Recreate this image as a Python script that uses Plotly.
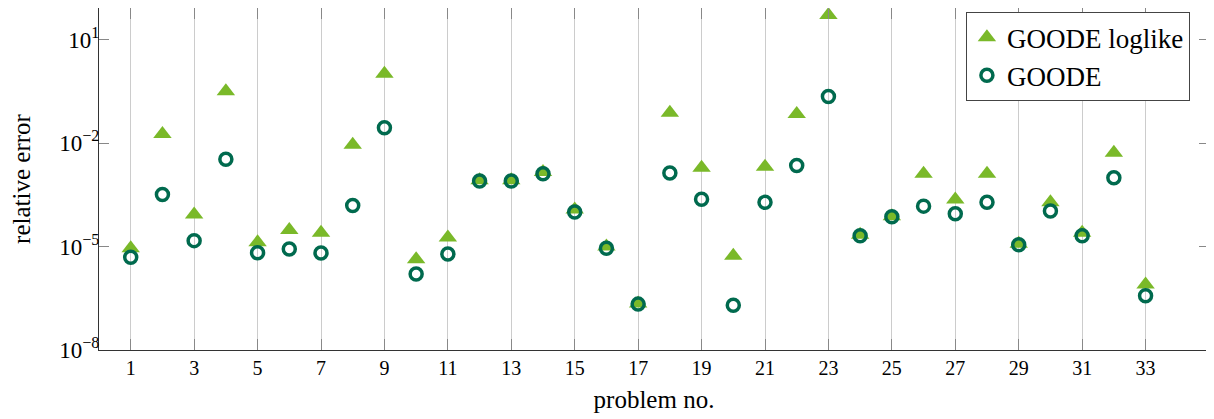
import plotly.graph_objects as go

problems = list(range(1, 34))
log_loglike = [-5.05, -1.74, -4.07, -0.50, -4.88, -4.52, -4.60, -2.05, 0.01, -5.37,
               -4.74, -3.08, -3.08, -2.84, -3.93, -5.00, -6.65, -1.12, -2.72, -5.27,
               -2.69, -1.16, 1.71, -4.66, -4.12, -2.89, -3.64, -2.89, -4.92, -3.72,
               -4.60, -2.28, -6.10]
log_goode = [-5.31, -3.49, -4.83, -2.47, -5.18, -5.07, -5.19, -3.81, -1.56, -5.80,
             -5.22, -3.10, -3.10, -2.89, -4.00, -5.05, -6.67, -2.87, -3.63, -6.70,
             -3.72, -2.65, -0.65, -4.69, -4.14, -3.83, -4.05, -3.72, -4.95, -3.97,
             -4.69, -3.01, -6.43]
err_loglike = [10 ** v for v in log_loglike]
err_goode = [10 ** v for v in log_goode]

x_tickvals = list(range(1, 34, 2))
y_tickvals = [1e-8, 1e-5, 1e-2, 1e1]
y_ticktext = ["10<sup>−8</sup>", "10<sup>−5</sup>", "10<sup>−2</sup>", "10<sup>1</sup>"]

light = "#7ab929"
dark = "#006a4e"
font = "Liberation Serif"

fig = go.Figure()
fig.add_trace(go.Scatter(
    x=problems, y=err_loglike, mode="markers", name="GOODE loglike",
    marker=dict(symbol="triangle-up", size=16, color=light, line=dict(width=0)),
))
fig.add_trace(go.Scatter(
    x=problems, y=err_goode, mode="markers", name="GOODE",
    marker=dict(symbol="circle-open", size=12, color=dark, line=dict(width=3.5, color=dark)),
))

fig.update_layout(
    width=1206, height=411,
    margin=dict(l=91, r=5, t=0, b=69),
    plot_bgcolor="white", paper_bgcolor="white",
    font=dict(family=font, size=19, color="black"),
    showlegend=True,
    legend=dict(
        x=0.781, y=0.988, xanchor="left", yanchor="top",
        bgcolor="white", bordercolor="#444", borderwidth=1,
        font=dict(family=font, size=27, color="black"),
        itemwidth=30, tracegroupgap=0,
    ),
    xaxis=dict(
        range=[0, 35], tickvals=x_tickvals, automargin=False,
        showgrid=True, gridcolor="#cccccc", gridwidth=1,
        ticks="inside", ticklen=11, tickcolor="#888", tickwidth=1,
        showline=True, linecolor="#333", linewidth=1, mirror="ticks",
        zeroline=False,
        title=dict(text="problem no.", font=dict(family=font, size=25), standoff=12),
        tickfont=dict(family=font, size=20),
    ),
    yaxis=dict(
        type="log", range=[-8, 1.913], automargin=False,
        tickvals=y_tickvals, ticktext=y_ticktext,
        showgrid=False,
        ticks="inside", ticklen=10, tickcolor="#888", tickwidth=1,
        showline=True, linecolor="#333", linewidth=1, mirror="ticks",
        zeroline=False, ticklabelstandoff=-6,
        title=dict(text="relative error", font=dict(family=font, size=25), standoff=24),
        tickfont=dict(family=font, size=23),
    ),
)

fig.write_html("out.html")
